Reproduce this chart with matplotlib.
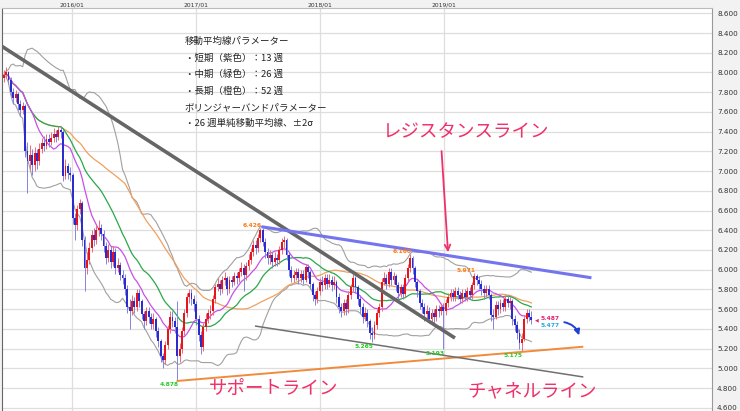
import matplotlib
matplotlib.use('Agg')
import matplotlib.pyplot as plt
import matplotlib.dates as mdates
import numpy as np
import pandas as pd

plt.rcParams['font.family'] = ['Noto Sans CJK JP', 'DejaVu Sans']

# 週足データ（2015/06/15 から）
first_week = '2015-06-15'
first_open = 7.94
close = [7.97, 8.00, 7.92, 7.80, 7.74, 7.78, 7.68, 7.62, 7.66, 7.20,
         7.10, 7.16, 7.06, 7.18, 7.10, 7.22, 7.28, 7.25, 7.33, 7.30,
         7.34, 7.38, 7.35, 7.42, 7.40, 6.95, 7.05, 6.98, 6.96, 6.52,
         6.45, 6.62, 6.68, 6.30, 6.02, 6.10, 6.22, 6.35, 6.30, 6.40,
         6.42, 6.36, 6.24, 6.12, 6.20, 6.08, 6.18, 6.02, 6.05, 5.95,
         5.92, 5.80, 5.62, 5.58, 5.68, 5.62, 5.76, 5.68, 5.55, 5.48,
         5.58, 5.52, 5.45, 5.50, 5.38, 5.28, 5.12, 5.08, 5.24, 5.40,
         5.52, 5.48, 5.42, 5.12, 5.20, 5.38, 5.56, 5.72, 5.76, 5.70,
         5.65, 5.50, 5.34, 5.22, 5.42, 5.50, 5.56, 5.58, 5.70, 5.82,
         5.86, 5.80, 5.90, 5.92, 5.80, 5.90, 5.88, 5.94, 5.92, 5.98,
         6.02, 5.95, 6.04, 6.10, 6.18, 6.25, 6.22, 6.32, 6.40, 6.28,
         6.18, 6.12, 6.15, 6.08, 6.12, 6.10, 6.20, 6.28, 6.30, 6.15,
         6.00, 5.92, 5.95, 5.98, 5.92, 5.96, 5.90, 6.03, 5.98, 5.85,
         5.74, 5.70, 5.78, 5.88, 5.84, 5.92, 5.86, 5.90, 5.84, 5.88,
         5.72, 5.62, 5.58, 5.66, 5.60, 5.74, 5.82, 5.92, 5.82, 5.70,
         5.62, 5.52, 5.56, 5.48, 5.36, 5.34, 5.44, 5.56, 5.62, 5.88,
         5.92, 5.86, 5.98, 5.90, 5.94, 5.84, 5.76, 5.82, 5.75, 5.92,
         6.02, 6.12, 6.02, 5.88, 5.78, 5.66, 5.62, 5.55, 5.58, 5.50,
         5.56, 5.52, 5.60, 5.58, 5.62, 5.58, 5.66, 5.72, 5.76, 5.72,
         5.78, 5.74, 5.70, 5.76, 5.72, 5.78, 5.74, 5.84, 5.94, 5.90,
         5.86, 5.80, 5.76, 5.80, 5.74, 5.54, 5.52, 5.64, 5.60, 5.66,
         5.62, 5.70, 5.66, 5.68, 5.50, 5.44, 5.36, 5.26, 5.30, 5.50,
         5.56, 5.52, 5.487]
high = [8.03, 8.06, 8.02, 7.95, 7.84, 7.82, 7.80, 7.72, 7.70, 7.68,
        7.30, 7.26, 7.22, 7.24, 7.22, 7.28, 7.34, 7.36, 7.38, 7.38,
        7.40, 7.44, 7.42, 7.46, 7.46, 7.42, 7.12, 7.08, 7.04, 6.98,
        6.58, 6.66, 6.72, 6.70, 6.34, 6.18, 6.28, 6.40, 6.42, 6.46,
        6.50, 6.46, 6.40, 6.28, 6.26, 6.24, 6.24, 6.22, 6.12, 6.08,
        6.00, 5.96, 5.84, 5.70, 5.74, 5.72, 5.80, 5.80, 5.70, 5.58,
        5.62, 5.62, 5.56, 5.56, 5.52, 5.42, 5.30, 5.16, 5.28, 5.44,
        5.58, 5.58, 5.52, 5.68, 5.26, 5.42, 5.60, 5.76, 5.80, 5.80,
        5.74, 5.68, 5.54, 5.38, 5.46, 5.56, 5.60, 5.64, 5.74, 5.86,
        5.92, 5.90, 5.94, 5.98, 5.94, 5.94, 5.94, 5.98, 5.98, 6.02,
        6.08, 6.06, 6.08, 6.16, 6.22, 6.30, 6.30, 6.36, 6.426, 6.42,
        6.32, 6.22, 6.20, 6.18, 6.18, 6.16, 6.24, 6.32, 6.34, 6.32,
        6.18, 6.04, 6.00, 6.02, 6.02, 6.00, 6.00, 6.06, 6.06, 6.00,
        5.88, 5.78, 5.82, 5.92, 5.94, 5.96, 5.96, 5.96, 5.94, 5.94,
        5.90, 5.76, 5.66, 5.70, 5.70, 5.78, 5.86, 5.96, 5.94, 5.84,
        5.74, 5.66, 5.62, 5.60, 5.50, 5.42, 5.48, 5.60, 5.66, 5.92,
        5.98, 5.96, 6.02, 6.02, 5.98, 5.96, 5.88, 5.86, 5.86, 5.96,
        6.06, 6.16, 6.14, 6.04, 5.90, 5.80, 5.70, 5.66, 5.64, 5.62,
        5.60, 5.60, 5.64, 5.64, 5.66, 5.66, 5.70, 5.76, 5.80, 5.80,
        5.82, 5.82, 5.78, 5.80, 5.80, 5.82, 5.82, 5.88, 5.971, 5.96,
        5.94, 5.90, 5.84, 5.84, 5.84, 5.76, 5.60, 5.68, 5.68, 5.70,
        5.70, 5.74, 5.74, 5.72, 5.70, 5.54, 5.48, 5.40, 5.36, 5.54,
        5.60, 5.60, 5.58]
low = [7.90, 7.94, 7.88, 7.76, 7.68, 7.70, 7.62, 7.56, 7.58, 7.14,
       6.78, 7.02, 6.96, 7.00, 7.02, 7.06, 7.18, 7.20, 7.22, 7.24,
       7.26, 7.30, 7.30, 7.32, 7.34, 6.90, 6.92, 6.92, 6.90, 6.46,
       6.30, 6.40, 6.56, 6.24, 5.78, 5.96, 6.06, 6.18, 6.24, 6.26,
       6.34, 6.30, 6.18, 6.06, 6.08, 6.02, 6.04, 5.96, 5.98, 5.90,
       5.86, 5.74, 5.56, 5.40, 5.54, 5.56, 5.58, 5.62, 5.50, 5.40,
       5.44, 5.46, 5.40, 5.40, 5.32, 5.22, 5.06, 5.00, 5.04, 5.20,
       5.36, 5.42, 5.36, 4.878, 5.06, 5.16, 5.34, 5.52, 5.66, 5.64,
       5.58, 5.44, 5.28, 5.14, 5.18, 5.38, 5.46, 5.50, 5.54, 5.66,
       5.78, 5.74, 5.76, 5.84, 5.74, 5.76, 5.82, 5.84, 5.86, 5.88,
       5.94, 5.78, 5.90, 6.00, 6.06, 6.14, 6.16, 6.18, 6.28, 6.24,
       6.12, 6.06, 6.06, 6.02, 6.04, 6.04, 6.06, 6.16, 6.22, 6.10,
       5.94, 5.88, 5.88, 5.90, 5.86, 5.88, 5.86, 5.88, 5.92, 5.80,
       5.68, 5.64, 5.66, 5.74, 5.78, 5.80, 5.80, 5.82, 5.78, 5.80,
       5.66, 5.56, 5.52, 5.54, 5.54, 5.56, 5.70, 5.78, 5.76, 5.64,
       5.56, 5.46, 5.48, 5.42, 5.30, 5.265, 5.30, 5.40, 5.52, 5.58,
       5.84, 5.80, 5.82, 5.84, 5.86, 5.78, 5.70, 5.72, 5.70, 5.72,
       5.88, 5.98, 5.96, 5.82, 5.72, 5.60, 5.56, 5.48, 5.50, 5.46,
       5.46, 5.46, 5.48, 5.52, 5.54, 5.193, 5.54, 5.62, 5.68, 5.68,
       5.68, 5.70, 5.66, 5.66, 5.68, 5.68, 5.70, 5.70, 5.80, 5.84,
       5.80, 5.74, 5.70, 5.72, 5.70, 5.48, 5.40, 5.50, 5.54, 5.56,
       5.58, 5.58, 5.62, 5.60, 5.44, 5.38, 5.30, 5.20, 5.175, 5.28,
       5.46, 5.48, 5.45]

# 高値・安値ラベルを付ける週
high_marks = [108, 171, 198]
low_marks = [73, 155, 185, 218]
bid_ask = [5.487, 5.477]

# トレンドライン
down_line = (['2015-06-04', '2019-02-03'], [8.278, 5.307])
resist_line = (['2017-07-13', '2020-03-11'], [6.436, 5.918])
support_line = (['2016-11-05', '2020-02-16'], [4.871, 5.219])
channel_line = (['2017-06-24', '2020-02-16'], [5.429, 4.912])

param_text = ['移動平均線パラメーター',
              '・短期（紫色）：13 週',
              '・中期（緑色）：26 週',
              '・長期（橙色）：52 週',
              'ボリンジャーバンドパラメーター',
              '・26 週単純移動平均線、±2σ']

year_ticks = ['2016-01-01', '2017-01-01', '2018-01-01', '2019-01-01']

dates = pd.date_range(first_week, periods=len(close), freq='7D')
x = mdates.date2num(dates)
c = np.array(close)
o = np.r_[first_open, c[:-1]]
h = np.array(high)
l = np.array(low)

s = pd.Series(c)
ma13 = s.rolling(13, min_periods=1).mean()
ma26 = s.rolling(26, min_periods=1).mean()
ma52 = s.rolling(52, min_periods=1).mean()
sd26 = s.rolling(26, min_periods=1).std(ddof=0)

fig = plt.figure(figsize=(7.4, 4.11), dpi=100, facecolor='#f2f2f2')
ax = fig.add_axes([2 / 740, 0, 710 / 740, 403 / 411])
ax.set_facecolor('white')

# ボリンジャーバンドと移動平均線
ax.plot(x, ma26 + 2 * sd26, color='#a0a0a0', lw=0.8, zorder=2)
ax.plot(x, ma26 - 2 * sd26, color='#a0a0a0', lw=0.8, zorder=2)
ax.plot(x, ma52, color='#f0a060', lw=0.9, zorder=2)
ax.plot(x, ma26, color='#2aa84a', lw=0.9, zorder=2)
ax.plot(x, ma13, color='#c850e8', lw=0.9, zorder=2)

# ローソク足
up = c >= o
body_col = np.where(up, '#e8141c', '#2b2bd0')
wick_col = np.where(up, '#ec6c78', '#8484e0')
ax.vlines(x, l, h, colors=wick_col, lw=0.7, zorder=3)
ax.bar(x, np.maximum(np.abs(c - o), 0.012), bottom=np.minimum(o, c),
       width=5.6, color=body_col, lw=0, zorder=4)

# ライン
for (d, v), col, lw in [(down_line, '#666666', 2.6),
                        (resist_line, '#7474ee', 2.2),
                        (support_line, '#f28a3c', 1.4),
                        (channel_line, '#707070', 1.1)]:
    ax.plot(mdates.datestr2num(d), v, color=col, lw=lw, zorder=5,
            solid_capstyle='butt')

# 高値・安値
for i in high_marks:
    ax.annotate('%.3f' % h[i], (x[i], h[i]), xytext=(0.8, -0.3),
                textcoords='offset points', ha='right', va='bottom',
                fontsize=4.3, color='#ff7a10', fontweight='bold',
                family='DejaVu Sans', zorder=6)
for i in low_marks:
    ax.annotate('%.3f' % l[i], (x[i], l[i]), xytext=(0.8, -1.2),
                textcoords='offset points', ha='right', va='top',
                fontsize=4.3, color='#22cc22', fontweight='bold',
                family='DejaVu Sans', zorder=6)

# 現在値
ax.annotate('◀', (x[-1], c[-1]), xytext=(4.2, 0), textcoords='offset points',
            ha='center', va='center', fontsize=3.5, color='#e8206a',
            family='DejaVu Sans')
ax.annotate('%.3f' % bid_ask[0], (x[-1], c[-1]), xytext=(6.6, 1.5),
            textcoords='offset points', ha='left', va='center', fontsize=4.3,
            color='#e8206a', fontweight='bold', family='DejaVu Sans')
ax.annotate('%.3f' % bid_ask[1], (x[-1], c[-1]), xytext=(6.6, -3.6),
            textcoords='offset points', ha='left', va='center', fontsize=4.3,
            color='#22aadd', fontweight='bold', family='DejaVu Sans')

# 矢印
ax.annotate('', xy=(mdates.datestr2num('2019-01-14'), 6.149),
            xytext=(mdates.datestr2num('2018-12-25'), 7.231),
            arrowprops=dict(arrowstyle='->', color='#f0306a', lw=1.3,
                            mutation_scale=10), zorder=6)
ax.annotate('', xy=(mdates.datestr2num('2020-02-06'), 5.307),
            xytext=(mdates.datestr2num('2019-12-14'), 5.472),
            arrowprops=dict(arrowstyle='-|>', color='#1f3fd6', lw=1.4,
                            mutation_scale=8,
                            connectionstyle='arc3,rad=-0.35'), zorder=6)

# 文字
pink = '#f0306a'
ax.text(mdates.datestr2num('2019-03-08'), 7.397, 'レジスタンスライン',
        fontsize=13.3, color=pink, ha='center', va='center')
ax.text(mdates.datestr2num('2017-08-19'), 4.790, 'サポートライン',
        fontsize=13.3, color=pink, ha='center', va='center')
ax.text(mdates.datestr2num('2019-09-19'), 4.765, 'チャネルライン',
        fontsize=13.3, color=pink, ha='center', va='center')

for k, t in enumerate(param_text):
    ax.text(mdates.datestr2num('2016-11-29'), 8.312 - 0.166 * k, t,
            fontsize=6.8, color='#222222', ha='left', va='center')

# 軸
ax.set_xlim(mdates.datestr2num('2015-06-10'), mdates.datestr2num('2021-03-01'))
ax.set_ylim(4.567, 8.654)
ax.set_yticks(np.round(np.arange(4.6, 8.61, 0.2), 1))
ax.yaxis.set_major_formatter(matplotlib.ticker.FormatStrFormatter('%.3f'))
ax.yaxis.tick_right()
ax.tick_params(axis='y', length=0, labelsize=5.2, pad=3.6, labelcolor='#333333')
ax.set_xticks(mdates.datestr2num(year_ticks))
ax.xaxis.set_major_formatter(mdates.DateFormatter('%Y/%m'))
ax.xaxis.tick_top()
ax.tick_params(axis='x', length=0, labelsize=4.3, pad=0.6, labelcolor='#333333')
for lab in ax.get_xticklabels() + ax.get_yticklabels():
    lab.set_family('DejaVu Sans')
ax.grid(color='#dedede', lw=0.9)
ax.set_axisbelow(True)
ax.spines['bottom'].set_visible(False)
ax.spines['left'].set_color('#666666')
ax.spines['right'].set_color('#999999')
ax.spines['top'].set_color('#bbbbbb')

fig.savefig('out.png', dpi=100, facecolor=fig.get_facecolor())
